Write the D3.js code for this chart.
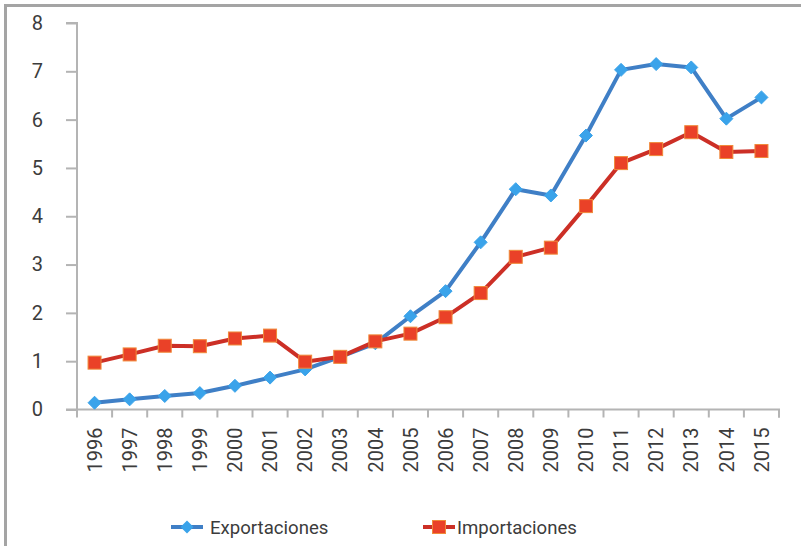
<!DOCTYPE html>
<html><head><meta charset="utf-8">
<script src="https://cdn.jsdelivr.net/npm/d3@7"></script>
<style>body{margin:0;background:#fff;}svg{display:block;font-family:Roboto,sans-serif;}</style>
</head><body>
<svg id="c" width="801" height="546"></svg>
<script>
const years = ["1996","1997","1998","1999","2000","2001","2002","2003","2004","2005","2006","2007","2008","2009","2010","2011","2012","2013","2014","2015"];
const exportaciones = [0.14,0.21,0.28,0.34,0.49,0.66,0.83,1.09,1.37,1.93,2.45,3.46,4.56,4.43,5.67,7.03,7.15,7.08,6.02,6.46];
const importaciones = [0.97,1.14,1.32,1.31,1.47,1.53,0.99,1.09,1.41,1.57,1.91,2.41,3.16,3.35,4.21,5.10,5.39,5.74,5.33,5.35];
const yTicks = [0,1,2,3,4,5,6,7,8];
const seriesNames = ["Exportaciones","Importaciones"];

const svg = d3.select("#c");
const axisCol = "#b4b4b4", textCol = "#3c3c3c";

// outer frame
svg.append("line").attr("x1",5).attr("x2",801).attr("y1",5.5).attr("y2",5.5).attr("stroke","#a4a4a4").attr("stroke-width",3);
svg.append("line").attr("x1",5.5).attr("x2",5.5).attr("y1",4).attr("y2",546).attr("stroke","#a4a4a4").attr("stroke-width",3);

const x = d3.scaleBand().domain(years).range([77,779]);
const y = d3.scaleLinear().domain([0,8]).range([409.5,23]);

// y axis
const ya = svg.append("g").attr("transform","translate(77,0)")
  .call(d3.axisLeft(y).tickValues(yTicks).tickSize(11).tickPadding(23).tickFormat(d3.format("d")));
ya.select(".domain").attr("stroke",axisCol).attr("stroke-width",2).attr("d","M-11,23H0V409.5");
ya.selectAll(".tick line").attr("stroke",axisCol).attr("stroke-width",2);
ya.selectAll(".tick text").attr("fill",textCol).attr("font-size",20).attr("font-family","Roboto");

// x axis
const xa = svg.append("g").attr("transform","translate(0,409.5)")
  .call(d3.axisBottom(x).tickSize(0).tickFormat(d=>d));
xa.select(".domain").attr("stroke",axisCol).attr("stroke-width",2).attr("d","M66,0H779V8");
const bounds = [...years.map(d=>x(d)), x.range()[1]];
xa.selectAll(".xt").data(bounds).enter().append("line").attr("class","xt")
  .attr("x1",d=>d).attr("x2",d=>d).attr("y1",0).attr("y2",8).attr("stroke",axisCol).attr("stroke-width",2);
xa.selectAll(".tick text").attr("fill",textCol).attr("font-size",20).attr("font-family","Roboto")
  .attr("transform","rotate(-90)").attr("text-anchor","end").attr("x",-18).attr("y",0).attr("dy","0.36em");

const line = d3.line().x((d,i)=>x(years[i])+x.bandwidth()/2).y(d=>y(d));

const blueLine = "#3f7fc6", blueMark = "#3aa3ea";
const redLine = "#cc2f26", redMark = "#ea4128", redEdge = "#f08a3a";

function drawSeries(vals, lc, mc, edge, shape){
  svg.append("path").datum(vals).attr("d",line).attr("fill","none").attr("stroke",lc).attr("stroke-width",4).attr("stroke-linejoin","round");
  const g = svg.append("g");
  vals.forEach((v,i)=>{
    const cx = x(years[i])+x.bandwidth()/2, cy = y(v);
    if(shape==="diamond"){
      g.append("path").attr("d",`M${cx},${cy-6.5}L${cx+6.5},${cy}L${cx},${cy+6.5}L${cx-6.5},${cy}Z`).attr("fill",mc).attr("stroke",mc).attr("stroke-width",1);
    } else {
      g.append("rect").attr("x",cx-6.5).attr("y",cy-6.5).attr("width",13).attr("height",13).attr("fill",mc).attr("stroke",edge).attr("stroke-width",1);
    }
  });
}
drawSeries(exportaciones, blueLine, blueMark, blueMark, "diamond");
drawSeries(importaciones, redLine, redMark, redEdge, "square");

// legend
const ly = 527;
const leg = [{name:seriesNames[0],x1:171,x2:203,tx:210,lc:blueLine,mc:blueMark,shape:"diamond"},
             {name:seriesNames[1],x1:423,x2:455,tx:457,lc:redLine,mc:redMark,shape:"square"}];
leg.forEach(l=>{
  svg.append("line").attr("x1",l.x1).attr("x2",l.x2).attr("y1",ly).attr("y2",ly).attr("stroke",l.lc).attr("stroke-width",4);
  const cx=(l.x1+l.x2)/2;
  if(l.shape==="diamond") svg.append("path").attr("d",`M${cx},${ly-6.5}L${cx+6.5},${ly}L${cx},${ly+6.5}L${cx-6.5},${ly}Z`).attr("fill",l.mc);
  else svg.append("rect").attr("x",cx-6.5).attr("y",ly-6.5).attr("width",13).attr("height",13).attr("fill",l.mc).attr("stroke",redEdge).attr("stroke-width",1);
  svg.append("text").attr("x",l.tx).attr("y",ly).attr("dy","0.36em").attr("font-size",18.6).attr("fill",textCol).text(l.name);
});
</script>
</body></html>
